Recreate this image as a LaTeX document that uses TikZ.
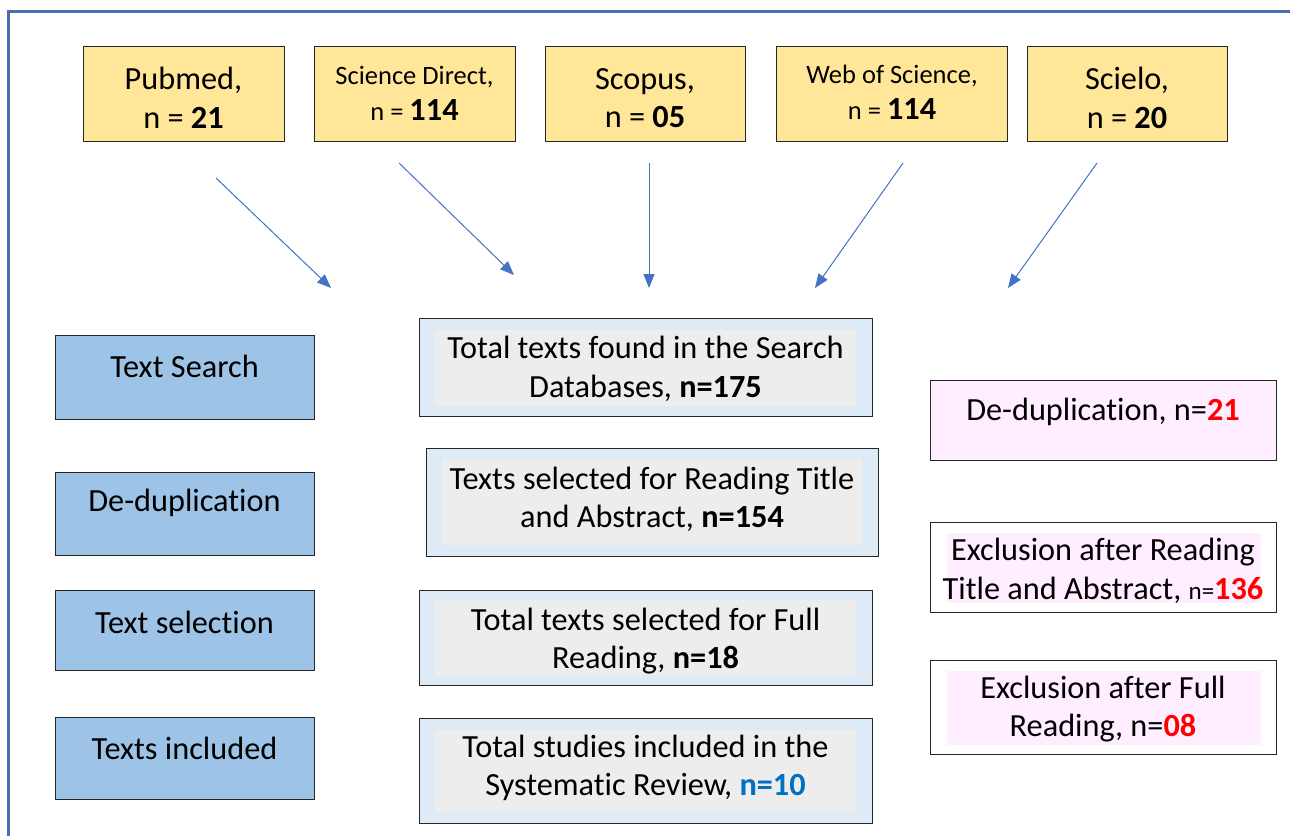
\documentclass[tikz,border=0pt]{standalone}
\usepackage{fontspec}
\setmainfont[Ligatures={NoCommon}]{Carlito}
\usetikzlibrary{arrows.meta}
\definecolor{frameblue}{HTML}{4A6EB0}
\definecolor{arrowblue}{HTML}{4472C4}
\definecolor{dbyellow}{HTML}{FFE699}
\definecolor{stepblue}{HTML}{9DC3E6}
\definecolor{midblue}{HTML}{DEEBF7}
\definecolor{midgray}{HTML}{EDEDED}
\definecolor{pinkfill}{HTML}{FFEEFF}
\definecolor{numred}{HTML}{FF0000}
\definecolor{numblue}{HTML}{0070C0}
\begin{document}
\begin{tikzpicture}[x=1pt,y=-1pt,
  box/.style={draw=black!85, line width=1pt, inner sep=0pt, outer sep=0pt, anchor=north west},
  inner/.style={draw=none, inner sep=0pt, outer sep=0pt, anchor=north west},
  txt/.style={inner sep=0pt, align=center, font=\fontsize{32.3}{38.5}\selectfont},
  smalltxt/.style={inner sep=0pt, align=center, font=\fontsize{26.5}{36}\selectfont},
  arr/.style={draw=arrowblue, line width=1pt, -{Triangle[length=14pt,width=11pt]}}
]
\useasboundingbox (0,0) rectangle (1290,836);
\fill[white] (0,0) rectangle (1290,836);
% frame
\draw[frameblue, line width=3pt] (8,836) -- (8,11) -- (1290,11);

% database boxes
\node[box, fill=dbyellow, minimum width=201pt, minimum height=95pt] (pub) at (83,46) {};
\node[box, fill=dbyellow, minimum width=201pt, minimum height=95pt] (sd) at (314,46) {};
\node[box, fill=dbyellow, minimum width=200pt, minimum height=95pt] (sco) at (545,46) {};
\node[box, fill=dbyellow, minimum width=231pt, minimum height=95pt] (wos) at (776,46) {};
\node[box, fill=dbyellow, minimum width=200pt, minimum height=95pt] (sci) at (1027,46) {};

\node[txt] (tpub) at (183.5,98) {Pubmed,\\n = \textbf{21}};
\node[smalltxt] (tsd) at (414.5,93) {Science Direct,\\n = {\fontsize{32.3}{36}\selectfont\textbf{114}}};
\node[txt] (tsco) at (645,98) {Scopus,\\n = \textbf{05}};
\node[smalltxt] (twos) at (892,92) {Web of Science,\\n = {\fontsize{32.3}{36}\selectfont\textbf{114}}};
\node[txt] (tsci) at (1127,98) {Scielo,\\n = \textbf{20}};

% arrows
\coordinate (a1s) at (216,178); \coordinate (a1e) at (331,288);
\coordinate (a2s) at (399,163); \coordinate (a2e) at (514,275);
\coordinate (a3s) at (649,163); \coordinate (a3e) at (649,288);
\coordinate (a4s) at (903,163); \coordinate (a4e) at (815,288);
\coordinate (a5s) at (1097,163); \coordinate (a5e) at (1008,288);
\draw[arr] (a1s) -- (a1e);
\draw[arr] (a2s) -- (a2e);
\draw[arr] (a3s) -- (a3e);
\draw[arr] (a4s) -- (a4e);
\draw[arr] (a5s) -- (a5e);

% left step boxes
\node[box, fill=stepblue, minimum width=259pt, minimum height=84pt] (s1) at (55,335) {};
\node[box, fill=stepblue, minimum width=259pt, minimum height=83pt] (s2) at (55,472) {};
\node[box, fill=stepblue, minimum width=259pt, minimum height=80pt] (s3) at (55,590) {};
\node[box, fill=stepblue, minimum width=259pt, minimum height=82pt] (s4) at (55,717) {};
\node[txt] (ts1) at (184.5,366) {Text Search};
\node[txt] (ts2) at (184.5,503) {De-duplication};
\node[txt] (ts3) at (184.5,622) {Text selection};
\node[txt] (ts4) at (184.5,748) {Texts included};

% middle boxes
\node[box, fill=midblue, minimum width=453pt, minimum height=98pt] (m1) at (419,318) {};
\node[inner, fill=midgray, minimum width=421pt, minimum height=76pt] (m1i) at (435,330) {};
\node[box, fill=midblue, minimum width=452pt, minimum height=108pt] (m2) at (426,448) {};
\node[inner, fill=midgray, minimum width=420pt, minimum height=86pt] (m2i) at (442,459) {};
\node[box, fill=midblue, minimum width=453pt, minimum height=95pt] (m3) at (419,590) {};
\node[inner, fill=midgray, minimum width=421pt, minimum height=75pt] (m3i) at (435,600) {};
\node[box, fill=midblue, minimum width=453pt, minimum height=105pt] (m4) at (419,718) {};
\node[inner, fill=midgray, minimum width=421pt, minimum height=83pt] (m4i) at (435,730) {};

\node[txt] (tm1) at (645.5,369) {Total texts found in the Search\\Databases, \textbf{n=175}};
\node[txt] (tm2) at (652,499.5) {Texts selected for Reading Title\\and Abstract, \textbf{n=154}};
\node[txt] (tm3) at (645.5,641) {Total texts selected for Full\\Reading, \textbf{n=18}};
\node[txt] (tm4) at (645.5,768) {Total studies included in the\\Systematic Review, \textcolor{numblue}{\textbf{n=10}}};

% right boxes
\node[box, fill=pinkfill, minimum width=346pt, minimum height=80pt] (r1) at (930,380) {};
\node[box, fill=white, minimum width=346pt, minimum height=90pt] (r2) at (930,522) {};
\node[inner, fill=pinkfill, minimum width=314pt, minimum height=70pt] (r2i) at (947,533) {};
\node[box, fill=white, minimum width=346pt, minimum height=94pt] (r3) at (930,660) {};
\node[inner, fill=pinkfill, minimum width=314pt, minimum height=74pt] (r3i) at (947,671) {};

\node[txt] (tr1) at (1103,412) {De-duplication, n=\textcolor{numred}{\textbf{21}}};
\node[txt] (tr2) at (1103,571) {Exclusion after Reading\\Title and Abstract, {\fontsize{25}{38.5}\selectfont n=}\textcolor{numred}{\textbf{136}}};
\node[txt] (tr3) at (1103,709) {Exclusion after Full\\Reading, n=\textcolor{numred}{\textbf{08}}};
\end{tikzpicture}
\end{document}
